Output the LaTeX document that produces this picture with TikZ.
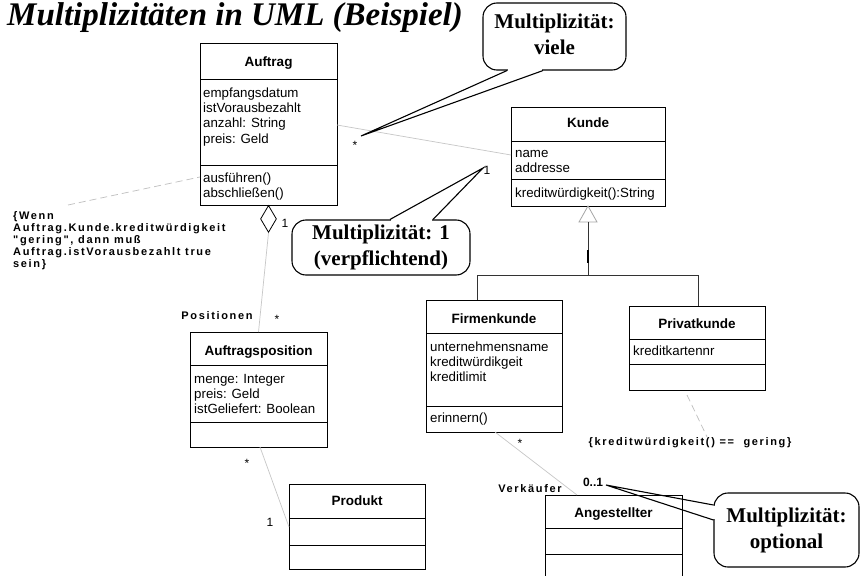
\documentclass[tikz,border=0pt]{standalone}
\usepackage{fontspec}
\setmainfont{Liberation Serif}
\setsansfont{Liberation Sans}
\newfontfamily\umlfont{Liberation Sans}
\newfontfamily\spacedfont[LetterSpace=15]{Liberation Sans}
\usetikzlibrary{calc,shapes.geometric}

\begin{document}
\begin{tikzpicture}[x=1pt,y=-1pt,
  classbox/.style={draw, line width=0.8pt, anchor=north west, inner sep=0pt, outer sep=0pt},
  divider/.style={line width=0.8pt},
  classname/.style={font=\umlfont\bfseries\fontsize{13.5}{16}\selectfont, inner sep=0pt, anchor=base},
  members/.style={font=\umlfont\fontsize{13.3}{15.3}\selectfont, align=left, anchor=north west, inner sep=0pt},
  mult/.style={font=\umlfont\fontsize{12}{14}\selectfont, inner sep=0pt, anchor=base},
  spaced/.style={font=\spacedfont\bfseries\fontsize{11}{12}\selectfont, inner sep=0pt},
  assoc/.style={draw=black!22, line width=0.7pt},
  depend/.style={draw=black!25, line width=0.7pt, dash pattern=on 7pt off 4pt},
  gentree/.style={draw=black!80, line width=0.8pt},
  callout/.style={draw, fill=white, line width=1.1pt, rounded corners=14pt, inner sep=0pt, align=center, font=\bfseries\fontsize{21}{26}\selectfont},
  pointer/.style={line width=1.1pt, line join=miter, line cap=butt}
]
\path[use as bounding box, fill=white] (0,0) rectangle (861,575);

% title
\node[anchor=base west, inner sep=0pt, font=\bfseries\itshape\fontsize{33}{37}\selectfont] (title) at (7,26) {Multiplizitäten in UML (Beispiel)};

% class Auftrag
\node[classbox, minimum width=137pt, minimum height=162pt] (auftrag) at (200,43) {};
\draw[divider] (auftrag.west |- 0,79) -- (auftrag.east |- 0,79) (auftrag.west |- 0,165) -- (auftrag.east |- 0,165);
\node[classname] (auftragname) at (268.5,67) {Auftrag};
\node[members] (auftragattr) at (203,86.3) {\strut empfangsdatum\\istVorausbezahlt\\anzahl: String\\preis: Geld};
\node[members] (auftragops) at (203,171.3) {\strut ausführen()\\abschließen()};

% class Kunde
\node[classbox, minimum width=154pt, minimum height=99pt] (kunde) at (511,107) {};
\draw[divider] (kunde.west |- 0,141) -- (kunde.east |- 0,141) (kunde.west |- 0,179) -- (kunde.east |- 0,179);
\node[classname] (kundename) at (588,128) {Kunde};
\node[members] (kundeattr) at (515,146.3) {\strut name\\addresse};
\node[members] (kundeops) at (515,186.3) {\strut kreditwürdigkeit():String};

% class Auftragsposition
\node[classbox, minimum width=137pt, minimum height=115pt] (position) at (190,332) {};
\draw[divider] (position.west |- 0,365) -- (position.east |- 0,365) (position.west |- 0,422) -- (position.east |- 0,422);
\node[classname] (positionname) at (258.5,355) {Auftragsposition};
\node[members] (positionattr) at (194,372.3) {\strut menge: Integer\\preis: Geld\\istGeliefert: Boolean};

% class Produkt
\node[classbox, minimum width=136pt, minimum height=85pt] (produkt) at (289,484) {};
\draw[divider] (produkt.west |- 0,518) -- (produkt.east |- 0,518) (produkt.west |- 0,545) -- (produkt.east |- 0,545);
\node[classname] (produktname) at (357,505) {Produkt};

% class Firmenkunde
\node[classbox, minimum width=136pt, minimum height=132pt] (firmen) at (426,300) {};
\draw[divider] (firmen.west |- 0,333) -- (firmen.east |- 0,333) (firmen.west |- 0,406) -- (firmen.east |- 0,406);
\node[classname] (firmenname) at (494,323) {Firmenkunde};
\node[members] (firmenattr) at (430,340.3) {\strut unternehmensname\\kreditwürdikgeit\\kreditlimit};
\node[members] (firmenops) at (430,411.3) {\strut erinnern()};

% class Privatkunde
\node[classbox, minimum width=136pt, minimum height=84pt] (privat) at (629,306) {};
\draw[divider] (privat.west |- 0,339) -- (privat.east |- 0,339) (privat.west |- 0,364) -- (privat.east |- 0,364);
\node[classname] (privatname) at (697,328) {Privatkunde};
\node[members] (privatattr) at (633,344.3) {\strut kreditkartennr};

% class Angestellter
\node[classbox, minimum width=137pt, minimum height=82pt] (angest) at (545,495) {};
\draw[divider] (angest.west |- 0,528) -- (angest.east |- 0,528) (angest.west |- 0,554) -- (angest.east |- 0,554);
\node[classname] (angestname) at (613.5,517) {Angestellter};

% generalization Kunde <- Firmenkunde, Privatkunde
\draw[draw=black!35, line width=0.8pt] (kunde.south) -- ++(-9,16) -- ++(18,0) -- cycle;
\coordinate (genbase) at ($(kunde.south)+(0,16)$);
\coordinate (genbar) at (genbase |- 0,275);
\draw[gentree] (genbase) -- (genbar);
\draw[line width=2pt] ($(genbase)+(0,28)$) -- ($(genbase)+(0,41)$);
\draw[gentree] (firmen.north -| 477,0) -- (477,275) -- (698,275) -- (privat.north -| 698,0);

% association Auftrag -- Kunde
\draw[assoc] (auftrag.east |- 0,125) -- (kunde.west |- 0,155);
\node[mult] (m1) at (355,149) {*};
\node[mult] (m2) at (487,174) {1};

% aggregation Auftrag <>-- Auftragsposition
\node[draw, shape=diamond, line width=0.8pt, minimum width=16pt, minimum height=27pt, inner sep=0pt, anchor=north] (agg) at (auftrag.south) {};
\draw[assoc] (agg.south) -- (position.north);
\node[mult] (m3) at (285,227) {1};
\node[spaced, anchor=base] (posrole) at (217,319) {Positionen};
\node[mult] (m4) at (277,323) {*};

% association Auftragsposition -- Produkt
\draw[assoc] (position.south -| 260,0) -- (produkt.west |- 0,527);
\node[mult] (m5) at (247,467) {*};
\node[mult] (m6) at (270,526) {1};

% association Firmenkunde -- Angestellter
\draw[assoc] (firmen.south -| 495,0) -- (angest.north -| 577,0);
\node[mult] (m7) at (520,447) {*};
\node[spaced, anchor=base] (verkrole) at (530,492) {Verkäufer};
\node[mult, font=\umlfont\bfseries\fontsize{12}{14}\selectfont] (m8) at (593,486) {0..1};

% constraints
\node[spaced, anchor=north west, align=left] (cnote) at (13,210.6) {\strut\{Wenn\\Auftrag.Kunde.kreditwürdigkeit\\"gering", dann muß\\Auftrag.istVorausbezahlt true\\sein\}};
\coordinate (cnotetip) at (68,205);
\draw[depend] (cnotetip) -- (auftrag.west |- 0,177);
\node[spaced, anchor=base] (kcon) at (690,445) {\{kreditwürdigkeit() ==\ \ gering\}};
\draw[depend] ($(privat.south -| 687,0)+(0,5)$) -- (kcon.north -| 707,0);

% callout: viele
\node[callout, minimum width=143pt, minimum height=67pt] (cmany) at (554.5,36.5) {\strut Multiplizität:\\\strut viele};
\coordinate (cmanytip) at (361,136);
\fill[white] ($(cmany.south -| 507,0)+(1,1.5)$) rectangle ($(cmany.south -| 543,0)+(-1,-1.5)$);
\draw[pointer] (cmany.south -| 507,0) -- (cmanytip) -- (cmany.south -| 543,0);

% callout: 1
\node[callout, minimum width=178pt, minimum height=55pt] (cone) at (381,247.5) {\strut Multiplizität: 1\\\strut (verpflichtend)};
\coordinate (conetip) at (483,168);
\fill[white] ($(cone.north -| 390,0)+(1,-1.5)$) rectangle ($(cone.north -| 433,0)+(-1,1.5)$);
\draw[pointer] (cone.north -| 390,0) -- (conetip) -- (cone.north -| 433,0);

% callout: optional
\node[callout, minimum width=145pt, minimum height=74pt] (copt) at (786.5,530) {\strut Multiplizität:\\\strut optional};
\coordinate (copttip) at (606,485);
\fill[white] ($(copt.west |- 0,505)+(-1.5,1)$) rectangle ($(copt.west |- 0,520)+(1.5,-1)$);
\draw[pointer] (copt.west |- 0,505) -- (copttip) -- (copt.west |- 0,520);

\end{tikzpicture}
\end{document}
